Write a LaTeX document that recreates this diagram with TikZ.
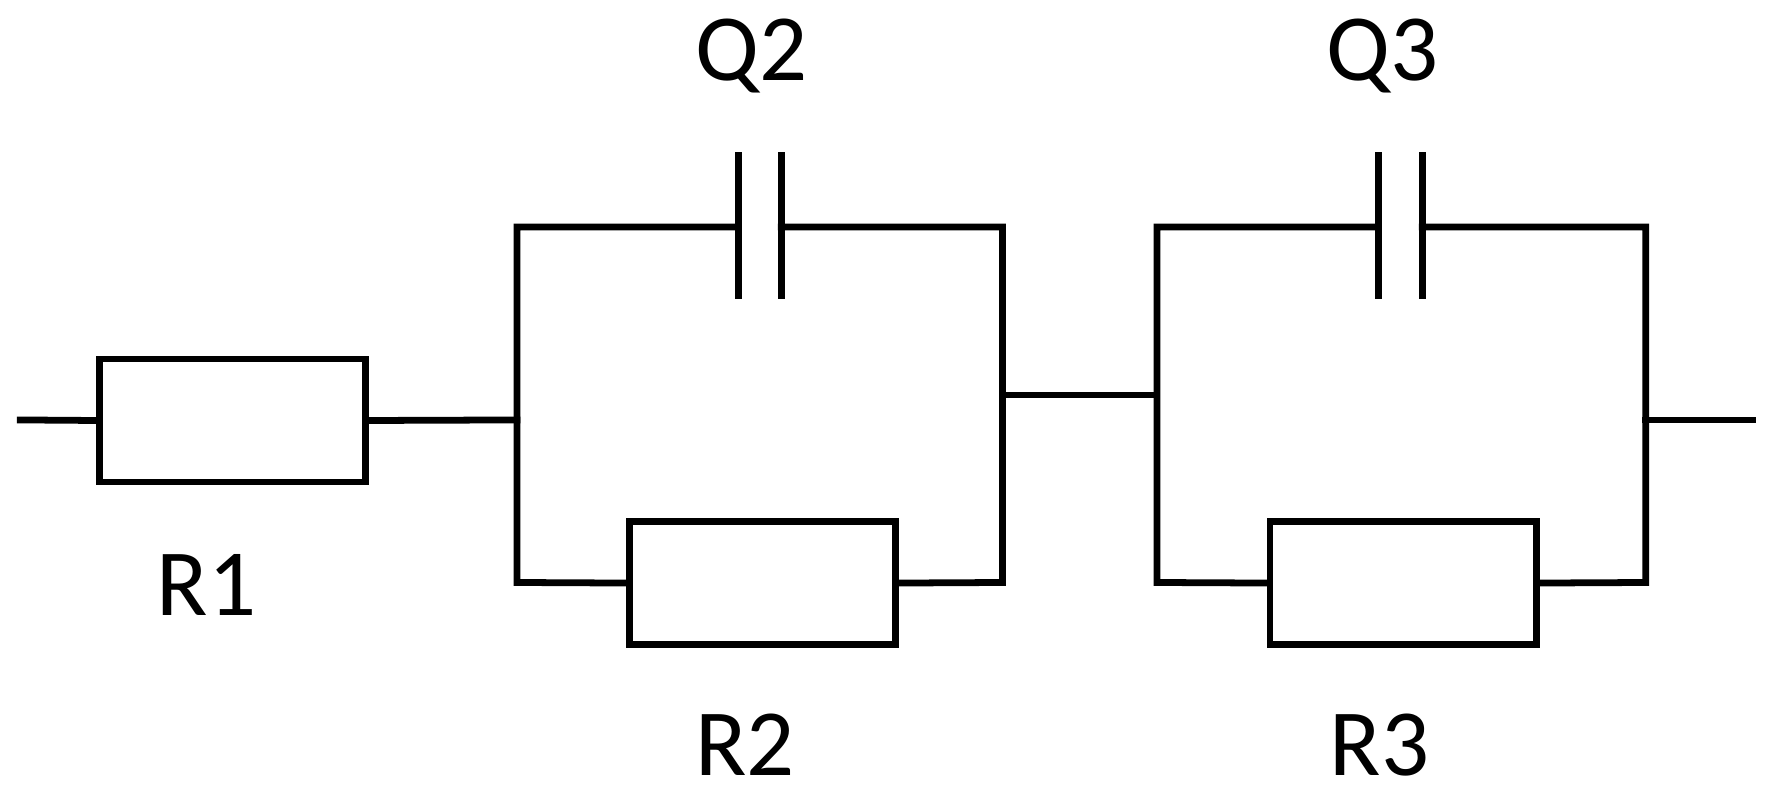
\documentclass[tikz,border=0pt]{standalone}
\usepackage{fontspec}
\setmainfont{Carlito}
\begin{document}
\begin{tikzpicture}[x=1pt,y=-1pt,line width=6pt,line cap=rect,line join=miter,
  res/.style={draw,rectangle,minimum width=236pt,minimum height=109pt,inner sep=0pt},
  lbl/.style={font=\fontsize{84}{96}\selectfont,inner sep=0pt}]
\useasboundingbox (0,0) rectangle (1568,710);
% R1
\node[res] (R1) at (206,372.5) {};
\coordinate (in) at (18,372);
\coordinate (A) at (458,372);
\draw (in) -- (R1.west);
\draw (R1.east) -- (A);
% block 1
\coordinate (B1tl) at (458,201); \coordinate (B1tr) at (888,201);
\coordinate (B1bl) at (458,516); \coordinate (B1br) at (888,516);
\coordinate (C2a) at (654,201); \coordinate (C2b) at (692,201);
\node[res] (R2) at (675.5,516.5) {};
\draw (C2a) -- (B1tl) -- (B1bl) -- (R2.west);
\draw (C2b) -- (B1tr) -- (B1br) -- (R2.east);
\draw[line cap=butt] (654,135) -- (654,265);
\draw[line cap=butt] (692,135) -- (692,265);
% middle
\coordinate (M1) at (888,350); \coordinate (M2) at (1025,350);
\draw (M1) -- (M2);
% block 2
\coordinate (B2tl) at (1025,201); \coordinate (B2tr) at (1458,201);
\coordinate (B2bl) at (1025,516); \coordinate (B2br) at (1458,516);
\coordinate (C3a) at (1221,201); \coordinate (C3b) at (1260,201);
\node[res] (R3) at (1243,516.5) {};
\draw (C3a) -- (B2tl) -- (B2bl) -- (R3.west);
\draw (C3b) -- (B2tr) -- (B2br) -- (R3.east);
\draw[line cap=butt] (1221,135) -- (1221,265);
\draw[line cap=butt] (1260,135) -- (1260,265);
\coordinate (out) at (1553,372);
\draw (1458,372) -- (out);
% labels
\node[lbl] (lQ2) at (666,50) {Q2};
\node[lbl] (lQ3) at (1225,50) {Q3};
\node[lbl] (lR1) at (183,518) {R1};
\node[lbl] (lR2) at (660,660) {R2};
\node[lbl] (lR3) at (1222,660) {R3};
\end{tikzpicture}
\end{document}
